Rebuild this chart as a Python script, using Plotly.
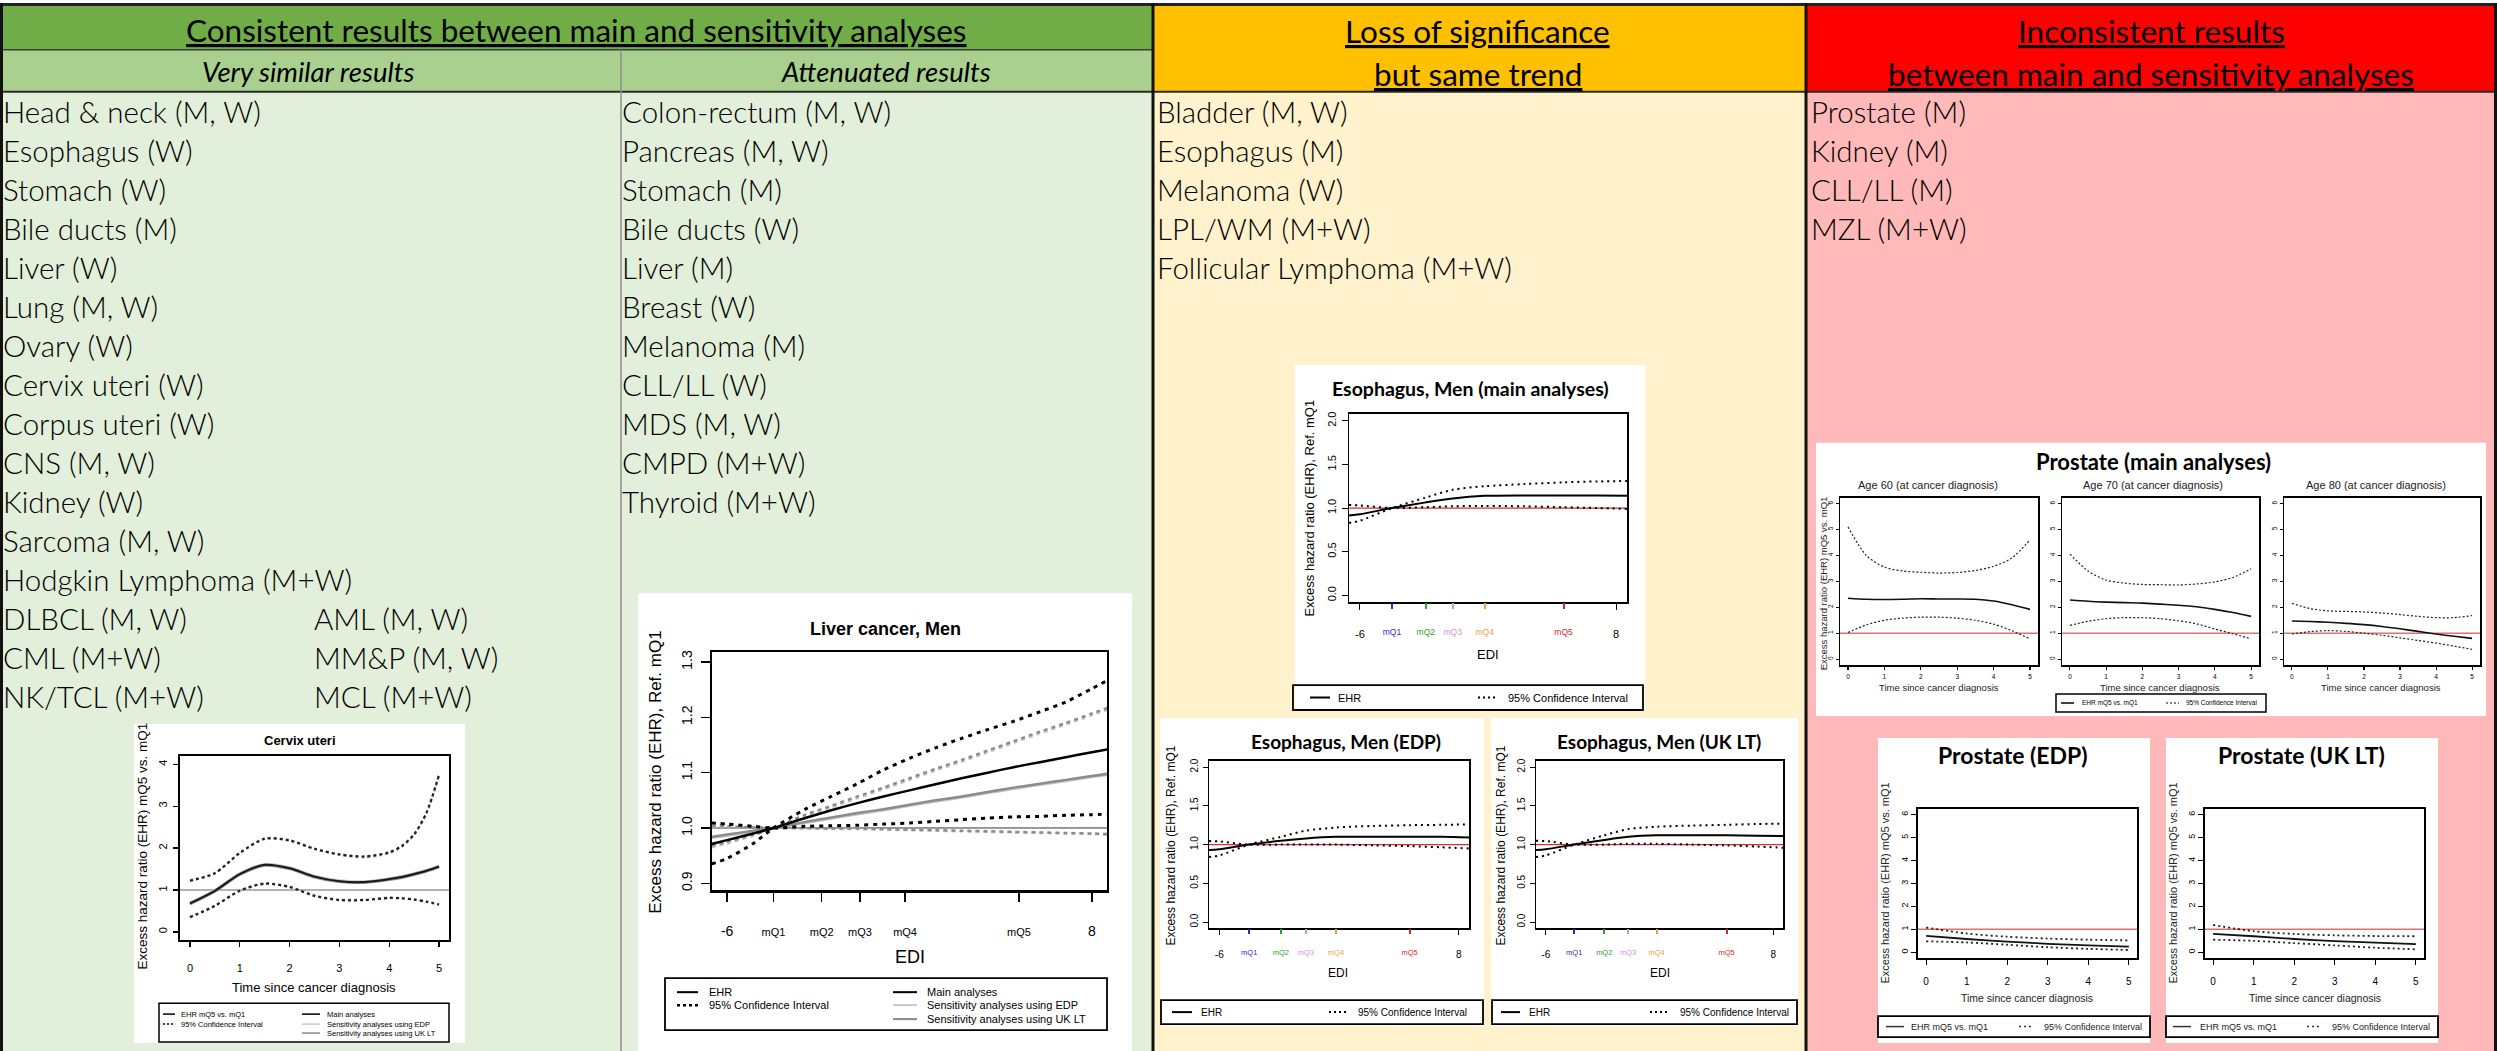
import plotly.graph_objects as go

W, H = 2497, 1051
BODY = "Lato, 'Open Sans', sans-serif"
RF = "'Liberation Sans', Arial, sans-serif"

# ---------------- table texts ----------------
head_consistent = "Consistent results between main and sensitivity analyses"
head_similar = "Very similar results"
head_attenuated = "Attenuated results"
head_loss = ["Loss of significance", "but same trend"]
head_incons = ["Inconsistent results", "between main and sensitivity analyses"]

similar_list = ["Head & neck (M, W)", "Esophagus (W)", "Stomach (W)", "Bile ducts (M)", "Liver (W)",
                "Lung (M, W)", "Ovary (W)", "Cervix uteri (W)", "Corpus uteri (W)", "CNS (M, W)",
                "Kidney (W)", "Sarcoma (M, W)", "Hodgkin Lymphoma (M+W)", "DLBCL (M, W)",
                "CML (M+W)", "NK/TCL (M+W)"]
similar_list_b = ["AML (M, W)", "MM&P (M, W)", "MCL (M+W)"]
attenuated_list = ["Colon-rectum (M, W)", "Pancreas (M, W)", "Stomach (M)", "Bile ducts (W)", "Liver (M)",
                   "Breast (W)", "Melanoma (M)", "CLL/LL (W)", "MDS (M, W)", "CMPD (M+W)", "Thyroid (M+W)"]
loss_list = ["Bladder (M, W)", "Esophagus (M)", "Melanoma (W)", "LPL/WM (M+W)", "Follicular Lymphoma (M+W)"]
incons_list = ["Prostate (M)", "Kidney (M)", "CLL/LL (M)", "MZL (M+W)"]

# ---------------- Cervix uteri ----------------
cerv_t = [0, 0.5, 1, 1.5, 2, 2.5, 3, 3.5, 4, 4.25, 4.5, 4.75, 5]
cerv_ehr = [0.68, 0.98, 1.38, 1.60, 1.52, 1.32, 1.21, 1.19, 1.26, 1.31, 1.38, 1.46, 1.56]
cerv_up = [1.22, 1.40, 1.88, 2.22, 2.18, 1.98, 1.85, 1.80, 1.90, 2.05, 2.33, 2.85, 3.75]
cerv_lo = [0.35, 0.62, 0.98, 1.15, 1.07, 0.86, 0.76, 0.76, 0.81, 0.80, 0.77, 0.72, 0.65]
cerv_ehr_edp = [0.69, 0.99, 1.39, 1.61, 1.53, 1.33, 1.22, 1.20, 1.27, 1.32, 1.39, 1.47, 1.57]
cerv_ehr_uk = [0.67, 0.97, 1.37, 1.59, 1.51, 1.31, 1.20, 1.18, 1.25, 1.30, 1.37, 1.45, 1.55]
cerv_up_sens = [1.23, 1.41, 1.89, 2.23, 2.19, 1.99, 1.84, 1.78, 1.88, 2.03, 2.31, 2.83, 3.73]
cerv_lo_sens = [0.36, 0.63, 0.99, 1.16, 1.08, 0.87, 0.77, 0.77, 0.82, 0.81, 0.78, 0.73, 0.66]
cerv_xticks = [0, 1, 2, 3, 4, 5]
cerv_yticks = [0, 1, 2, 3, 4]

# ---------------- Liver cancer, Men ----------------
liv_x = [-6.6, -6, -5, -4.22, -3, -2, -1, 0, 1, 2, 3, 4, 5, 6, 7, 8, 8.6]
liv_main = [0.971, 0.978, 0.990, 1.000, 1.018, 1.032, 1.045, 1.057, 1.068, 1.079, 1.090, 1.100, 1.110, 1.119, 1.128, 1.137, 1.142]
liv_main_ci_a = [0.935, 0.945, 0.972, 1.000, 1.034, 1.057, 1.080, 1.105, 1.126, 1.145, 1.162, 1.178, 1.193, 1.210, 1.228, 1.252, 1.267]
liv_main_ci_b = [1.009, 1.007, 1.003, 1.000, 1.003, 1.004, 1.005, 1.007, 1.009, 1.012, 1.015, 1.018, 1.020, 1.021, 1.023, 1.024, 1.025]
liv_edp = [0.982, 0.986, 0.993, 1.000, 1.009, 1.017, 1.025, 1.032, 1.040, 1.048, 1.055, 1.063, 1.071, 1.078, 1.085, 1.092, 1.096]
liv_uk = [0.984, 0.988, 0.995, 1.000, 1.011, 1.019, 1.027, 1.034, 1.042, 1.050, 1.057, 1.065, 1.073, 1.080, 1.087, 1.094, 1.098]
liv_edp_ci_a = [0.965, 0.972, 0.986, 1.000, 1.021, 1.037, 1.054, 1.070, 1.087, 1.104, 1.120, 1.137, 1.154, 1.171, 1.187, 1.204, 1.214]
liv_uk_ci_a = [0.968, 0.975, 0.988, 1.000, 1.024, 1.040, 1.057, 1.073, 1.090, 1.107, 1.123, 1.140, 1.157, 1.174, 1.190, 1.207, 1.217]
liv_edp_ci_b = [1.003, 1.002, 1.001, 1.000, 0.999, 0.998, 0.998, 0.997, 0.996, 0.995, 0.994, 0.993, 0.992, 0.991, 0.990, 0.989, 0.988]
liv_uk_ci_b = [1.004, 1.003, 1.001, 1.000, 1.000, 0.999, 0.999, 0.998, 0.997, 0.996, 0.995, 0.994, 0.993, 0.992, 0.991, 0.990, 0.989]
liv_mq = [-4.22, -2.37, -0.9, 0.83, 5.2]
mq_labels = ["mQ1", "mQ2", "mQ3", "mQ4", "mQ5"]
liv_yticks = [0.9, 1.0, 1.1, 1.2, 1.3]
liv_ytext = ["0.9", "1.0", "1.1", "1.2", "1.3"]

# ---------------- Esophagus, Men ----------------
eso_x = [-6.6, -6, -4.25, -2.4, -0.93, 0.82, 3, 5.13, 7, 8.6]
eso_main = [0.915, 0.93, 1.0, 1.065, 1.11, 1.14, 1.145, 1.145, 1.145, 1.14]
eso_main_a = [0.83, 0.855, 1.0, 1.12, 1.21, 1.25, 1.275, 1.295, 1.305, 1.31]
eso_main_b = [1.035, 1.03, 1.0, 1.01, 1.02, 1.025, 1.02, 1.01, 1.0, 0.99]
eso_edp = [0.93, 0.94, 1.0, 1.05, 1.08, 1.10, 1.10, 1.10, 1.10, 1.09]
eso_edp_a = [0.84, 0.86, 1.0, 1.10, 1.18, 1.22, 1.24, 1.25, 1.255, 1.26]
eso_edp_b = [1.045, 1.04, 1.0, 1.0, 1.0, 1.0, 0.99, 0.98, 0.965, 0.95]
eso_uk = [0.93, 0.94, 1.0, 1.06, 1.10, 1.12, 1.12, 1.12, 1.115, 1.11]
eso_uk_a = [0.84, 0.86, 1.0, 1.12, 1.20, 1.23, 1.245, 1.255, 1.265, 1.27]
eso_uk_b = [1.05, 1.045, 1.0, 1.0, 1.01, 1.01, 1.0, 0.99, 0.975, 0.96]
eso_mq = [-4.25, -2.4, -0.93, 0.82, 5.13]
mq_colors = ["#2B2BB8", "#2CA02C", "#D58FD5", "#E8A33A", "#D62728"]
eso_yticks = [0, 0.5, 1.0, 1.5, 2.0]
eso_ytext = ["0.0", "0.5", "1.0", "1.5", "2.0"]

# ---------------- Prostate ----------------
pr_t = [0, 0.5, 1, 1.5, 2, 2.5, 3, 3.5, 4, 4.5, 5]
p60_ehr = [2.35, 2.31, 2.30, 2.31, 2.33, 2.32, 2.32, 2.31, 2.24, 2.10, 1.92]
p60_up = [5.10, 4.00, 3.55, 3.40, 3.35, 3.32, 3.34, 3.42, 3.58, 3.90, 4.60]
p60_lo = [1.03, 1.32, 1.50, 1.58, 1.62, 1.62, 1.58, 1.50, 1.35, 1.10, 0.78]
p70_ehr = [2.28, 2.23, 2.20, 2.18, 2.16, 2.12, 2.08, 2.02, 1.92, 1.80, 1.65]
p70_up = [4.05, 3.40, 3.05, 2.93, 2.88, 2.87, 2.86, 2.90, 2.98, 3.15, 3.48]
p70_lo = [1.30, 1.46, 1.56, 1.60, 1.60, 1.56, 1.48, 1.36, 1.16, 0.98, 0.78]
p80_ehr = [1.47, 1.45, 1.42, 1.38, 1.33, 1.26, 1.17, 1.07, 0.97, 0.88, 0.80]
p80_up = [2.15, 1.95, 1.86, 1.84, 1.82, 1.78, 1.72, 1.65, 1.60, 1.60, 1.68]
p80_lo = [0.97, 1.06, 1.10, 1.07, 1.00, 0.92, 0.82, 0.72, 0.62, 0.50, 0.38]
age_titles = ["Age 60 (at cancer diagnosis)", "Age 70 (at cancer diagnosis)", "Age 80 (at cancer diagnosis)"]
ps_t = [0, 1, 2, 3, 4, 5]
pe_ehr = [0.72, 0.58, 0.47, 0.37, 0.30, 0.25]
pe_up = [1.08, 0.82, 0.68, 0.60, 0.55, 0.52]
pe_lo = [0.48, 0.43, 0.33, 0.22, 0.15, 0.10]
pu_ehr = [0.80, 0.70, 0.58, 0.49, 0.42, 0.36]
pu_up = [1.19, 0.92, 0.80, 0.74, 0.71, 0.70]
pu_lo = [0.55, 0.50, 0.40, 0.30, 0.20, 0.13]
pr_xticks = [0, 1, 2, 3, 4, 5]
pr_yticks = [0, 1, 2, 3, 4, 5, 6]

y_title_t = "Excess hazard ratio (EHR) mQ5 vs. mQ1"
y_title_edi = "Excess hazard ratio (EHR), Ref. mQ1"
x_title_t = "Time since cancer diagnosis"


def X(p):
    return p / W


def Y(p):
    return 1 - p / H


fig = go.Figure()
shapes, annos, lay = [], [], {}
ax_n = [0]


def rect(x0, y0, x1, y1, fill='rgba(0,0,0,0)', lc=None, lw=0, layer='below'):
    shapes.append(dict(type='rect', xref='paper', yref='paper', x0=X(x0), x1=X(x1), y0=Y(y1), y1=Y(y0),
                       fillcolor=fill, line=dict(color=lc or 'rgba(0,0,0,0)', width=lw), layer=layer))


def seg(x0, y0, x1, y1, color, width, dash='solid', layer='above'):
    shapes.append(dict(type='line', xref='paper', yref='paper', x0=X(x0), x1=X(x1), y0=Y(y0), y1=Y(y1),
                       line=dict(color=color, width=width, dash=dash), layer=layer))


def txt(x, y, s, size, family=BODY, color='black', xa='left', ya='middle', angle=0, weight=None):
    font = dict(family=family, size=size, color=color)
    if weight is not None:
        font['weight'] = weight
    annos.append(dict(xref='paper', yref='paper', x=X(x), y=Y(y), text=s, showarrow=False,
                      xanchor=xa, yanchor=ya, textangle=angle, borderpad=0, font=font))


def make_plot(box, xr, yr, xtv, xtt, ytv, ytt, xfs, yfs, lw, tl, xso, yso):
    ax_n[0] += 1
    n = ax_n[0]
    s = '' if n == 1 else str(n)
    x0, y0, x1, y1 = box
    base = dict(showline=True, mirror=True, linecolor='black', linewidth=lw, ticks='outside', ticklen=tl,
                tickwidth=max(1, lw * 0.7), tickcolor='black', showgrid=False, zeroline=False,
                fixedrange=True, tickmode='array')
    lay['xaxis' + s] = dict(base, domain=[X(x0), X(x1)], range=xr, anchor='y' + s, tickvals=xtv, ticktext=xtt,
                            tickfont=dict(family=RF, size=xfs, color='black'), ticklabelstandoff=xso)
    lay['yaxis' + s] = dict(base, domain=[Y(y1), Y(y0)], range=yr, anchor='x' + s, tickvals=ytv, ticktext=ytt,
                            tickangle=-90, tickfont=dict(family=RF, size=yfs, color='black'),
                            ticklabelstandoff=yso)
    return 'x' + s, 'y' + s


def overlay_tick(xref, yref, xr, val, label, color, size, tl, so):
    ax_n[0] += 1
    n = ax_n[0]
    lay['xaxis%d' % n] = dict(overlaying=xref, anchor=yref, side='bottom', range=xr, tickmode='array',
                              tickvals=[val], ticktext=[label], ticks='outside', ticklen=tl, tickwidth=2,
                              tickcolor=color, tickfont=dict(family=RF, size=size, color=color),
                              showline=False, showgrid=False, zeroline=False, fixedrange=True,
                              ticklabelstandoff=so)
    fig.add_trace(go.Scatter(x=[val], y=[None], xaxis='x%d' % n, yaxis=yref, mode='markers',
                             marker=dict(opacity=0), showlegend=False, hoverinfo='skip'))


def line(xa, ya, xs, ys, color, width, dash='solid', shape='spline'):
    fig.add_trace(go.Scatter(x=xs, y=ys, xaxis=xa, yaxis=ya, mode='lines',
                             line=dict(color=color, width=width, dash=dash, shape=shape, smoothing=0.8),
                             showlegend=False, hoverinfo='skip'))


# ---------------- table background ----------------
rect(0, 0, 1153, 47, '#70AD47')
rect(0, 47, 1153, 89, '#A9D08E')
rect(0, 89, 1153, H, '#E2EFDA')
rect(1153, 0, 1806, 89, '#FFC000')
rect(1153, 89, 1806, H, '#FFF2CC')
rect(1806, 0, W, 89, '#FF0000')
rect(1806, 89, W, H, '#FFB9B9')
seg(0, 47, 1153, 47, '#3A3A3A', 1.5, layer='below')
seg(0, 89, W, 89, '#2A2A2A', 2, layer='below')
seg(621, 47, 621, H, '#8C8C8C', 1.5, layer='below')
seg(0, 1.5, W, 1.5, '#222222', 3, layer='below')
seg(1.5, 0, 1.5, H, '#111111', 3, layer='below')
seg(W - 1.5, 0, W - 1.5, H, '#111111', 3, layer='below')
seg(1153, 0, 1153, H, '#111111', 3, layer='below')
seg(1806, 0, 1806, H, '#111111', 3, layer='below')

# headers
HF = 31.5
txt(576, 27, '<u>' + head_consistent + '</u>', HF, xa='center')
txt(308, 69, '<i>' + head_similar + '</i>', 27.5, xa='center')
txt(886, 69, '<i>' + head_attenuated + '</i>', 27.5, xa='center')
txt(1478, 28, '<u>' + head_loss[0] + '</u>', HF, xa='center')
txt(1478, 71, '<u>' + head_loss[1] + '</u>', HF, xa='center')
txt(2151, 28, '<u>' + head_incons[0] + '</u>', HF, xa='center')
txt(2151, 71, '<u>' + head_incons[1] + '</u>', HF, xa='center')

BF = 29.5
LS = 39.1
for k, s in enumerate(similar_list):
    txt(2, 109 + LS * k, s, BF, weight=300)
for k, s in enumerate(similar_list_b):
    txt(313, 109 + LS * (13 + k), s, BF, weight=300)
for k, s in enumerate(attenuated_list):
    txt(621, 109 + LS * k, s, BF, weight=300)
for k, s in enumerate(loss_list):
    txt(1156, 109 + LS * k, s, BF, weight=300)
for k, s in enumerate(incons_list):
    txt(1810, 109 + LS * k, s, BF, weight=300)

# white picture boxes
rect(134, 723, 465, 1043, 'white')
rect(638, 592, 1132, H, 'white')
rect(1295, 363, 1645, 710, 'white')
rect(1160, 717, 1484, 1026, 'white')
rect(1491, 717, 1798, 1026, 'white')
rect(1816, 441, 2486, 715, 'white')
rect(1878, 737, 2150, 1043, 'white')
rect(2166, 737, 2438, 1043, 'white')

# ---------------- Cervix uteri chart ----------------
cxr = [-0.2, 5.2]
xa, ya = make_plot((180, 755, 449, 940), cxr, [-0.2, 4.2], cerv_xticks, [str(v) for v in cerv_xticks],
                   cerv_yticks, [str(v) for v in cerv_yticks], 11, 11, 1.8, 5, 12, 2)
line(xa, ya, cxr, [1, 1], '#9A9A9A', 1.5, shape='linear')
line(xa, ya, cerv_t, cerv_up_sens, '#A0A0A0', 2.2, '3px,3px')
line(xa, ya, cerv_t, cerv_lo_sens, '#A0A0A0', 2.2, '3px,3px')
line(xa, ya, cerv_t, cerv_ehr_edp, '#C8C8C8', 3)
line(xa, ya, cerv_t, cerv_ehr_uk, '#8A8A8A', 3)
line(xa, ya, cerv_t, cerv_up, '#222222', 2.2, '3px,3px')
line(xa, ya, cerv_t, cerv_lo, '#222222', 2.2, '3px,3px')
line(xa, ya, cerv_t, cerv_ehr, '#1A1A1A', 2)
txt(300, 740, '<b>Cervix uteri</b>', 13, RF, xa='center')
txt(314, 987, x_title_t, 13, RF, xa='center')
txt(143, 846, y_title_t, 13.5, RF, xa='center', angle=-90)
rect(159, 1003, 449, 1042, lc='black', lw=1.5, layer='above')
seg(163, 1014, 175, 1014, 'black', 1.5)
seg(163, 1024, 175, 1024, 'black', 1.5, '2px,2px')
txt(180, 1014, 'EHR mQ5 vs. mQ1', 7.5, RF)
txt(180, 1024, '95% Confidence Interval', 7.5, RF)
seg(302, 1014, 320, 1014, 'black', 1.5)
seg(302, 1024, 320, 1024, '#C8C8C8', 1.5)
seg(302, 1033, 320, 1033, '#888888', 1.5)
txt(326, 1014, 'Main analyses', 7.5, RF)
txt(326, 1024, 'Sensitivity analyses using EDP', 7.5, RF)
txt(326, 1033, 'Sensitivity analyses using UK LT', 7.5, RF)

# ---------------- Liver chart ----------------
lxr = [-6.58, 8.58]
liv_xt = [-6] + liv_mq + [8]
liv_xtt = ['-6'] + ['<span style="font-size:11px">%s</span>' % m for m in mq_labels] + ['8']
xa, ya = make_plot((712, 651, 1107, 890), lxr, [0.887, 1.318], liv_xt, liv_xtt, liv_yticks, liv_ytext,
                   14, 14, 2.2, 9, 18, 3)
line(xa, ya, lxr, [1, 1], '#333333', 1, shape='linear')
line(xa, ya, liv_x, liv_edp_ci_a, '#C4C4C4', 2.5, '4px,4px')
line(xa, ya, liv_x, liv_uk_ci_a, '#8C8C8C', 2.5, '4px,4px')
line(xa, ya, liv_x, liv_edp_ci_b, '#C4C4C4', 2.5, '4px,4px')
line(xa, ya, liv_x, liv_uk_ci_b, '#8C8C8C', 2.5, '4px,4px')
line(xa, ya, liv_x, liv_edp, '#C4C4C4', 2.5)
line(xa, ya, liv_x, liv_uk, '#8C8C8C', 2.5)
line(xa, ya, liv_x, liv_main_ci_a, 'black', 3, '4px,5px')
line(xa, ya, liv_x, liv_main_ci_b, 'black', 3, '4px,5px')
line(xa, ya, liv_x, liv_main, 'black', 2.5)
txt(885, 628, '<b>Liver cancer, Men</b>', 18, RF, xa='center')
txt(910, 957, 'EDI', 18, RF, xa='center')
txt(656, 772, y_title_edi, 17, RF, xa='center', angle=-90)
rect(665, 978, 1107, 1030, lc='black', lw=1.8, layer='above')
seg(677, 992, 698, 992, 'black', 2)
seg(677, 1005, 698, 1005, 'black', 2.5, '3px,3px')
txt(708, 992, 'EHR', 11, RF)
txt(708, 1005, '95% Confidence Interval', 11, RF)
seg(893, 992, 917, 992, 'black', 2)
seg(893, 1005, 917, 1005, '#C8C8C8', 2)
seg(893, 1019, 917, 1019, '#888888', 2)
txt(926, 992, 'Main analyses', 11, RF)
txt(926, 1005, 'Sensitivity analyses using EDP', 11, RF)
txt(926, 1019, 'Sensitivity analyses using UK LT', 11, RF)

# ---------------- Esophagus charts ----------------
exr = [-6.6, 8.6]
eso_specs = [
    dict(box=(1349, 412, 1627, 601), data=(eso_main, eso_main_a, eso_main_b), fs=11, mqfs=8.5, tl=6, xso=15,
         title='Esophagus, Men (main analyses)', tpos=(1470, 387), tfs=19.5, edi=(1488, 653), efs=13,
         ytp=(1310, 507), yfs=13, leg=(1293, 684, 1643, 709), sol=(1310, 1330), ehr_x=1337,
         dot=(1478, 1495), ci_x=1507, lfs=11),
    dict(box=(1209, 760, 1469, 928), data=(eso_edp, eso_edp_a, eso_edp_b), fs=10, mqfs=7.5, tl=5, xso=11,
         title='Esophagus, Men (EDP)', tpos=(1346, 741), tfs=19, edi=(1338, 973), efs=12,
         ytp=(1171, 845), yfs=12, leg=(1161, 1000, 1483, 1024), sol=(1172, 1192), ehr_x=1200,
         dot=(1329, 1346), ci_x=1357, lfs=10),
    dict(box=(1536, 760, 1783, 928), data=(eso_uk, eso_uk_a, eso_uk_b), fs=10, mqfs=7.5, tl=5, xso=11,
         title='Esophagus, Men (UK LT)', tpos=(1659, 741), tfs=19, edi=(1660, 973), efs=12,
         ytp=(1501, 845), yfs=12, leg=(1492, 1000, 1797, 1024), sol=(1501, 1520), ehr_x=1528,
         dot=(1650, 1667), ci_x=1679, lfs=10),
]
for sp in eso_specs:
    xa, ya = make_plot(sp['box'], exr, [-0.08, 2.08], [-6, 8], ['-6', '8'], eso_yticks, eso_ytext,
                       sp['fs'], sp['fs'], 1.5, sp['tl'], sp['xso'], 1)
    for v, lab, col in zip(eso_mq, mq_labels, mq_colors):
        overlay_tick(xa, ya, exr, v, lab, col, sp['mqfs'], sp['tl'], sp['xso'] + 1)
    ehr, ca, cb = sp['data']
    line(xa, ya, exr, [1, 1], '#D03030', 1.2, shape='linear')
    line(xa, ya, eso_x, ca, 'black', 2, '2px,4px')
    line(xa, ya, eso_x, cb, 'black', 2, '2px,4px')
    line(xa, ya, eso_x, ehr, 'black', 2)
    txt(sp['tpos'][0], sp['tpos'][1], '<b>%s</b>' % sp['title'], sp['tfs'], BODY, xa='center')
    txt(sp['edi'][0], sp['edi'][1], 'EDI', sp['efs'], RF, xa='center')
    txt(sp['ytp'][0], sp['ytp'][1], y_title_edi, sp['yfs'], RF, xa='center', angle=-90)
    lx0, ly0, lx1, ly1 = sp['leg']
    rect(lx0, ly0, lx1, ly1, lc='black', lw=1.8, layer='above')
    ym = (ly0 + ly1) / 2
    seg(sp['sol'][0], ym, sp['sol'][1], ym, 'black', 2)
    seg(sp['dot'][0], ym, sp['dot'][1], ym, 'black', 2, '2px,3px')
    txt(sp['ehr_x'], ym, 'EHR', sp['lfs'], RF)
    txt(sp['ci_x'], ym, '95% Confidence Interval', sp['lfs'], RF)

# ---------------- Prostate main analyses ----------------
pxr = [-0.22, 5.22]
pyr = [-0.23, 6.23]
panels = [((1840, 496, 2038, 664), p60_ehr, p60_up, p60_lo, 1928, 1939),
          ((2062, 496, 2259, 664), p70_ehr, p70_up, p70_lo, 2153, 2160),
          ((2284, 496, 2480, 664), p80_ehr, p80_up, p80_lo, 2376, 2381)]
for k, (box, e, u, lo, tx, xt) in enumerate(panels):
    xa, ya = make_plot(box, pxr, pyr, pr_xticks, [str(v) for v in pr_xticks], pr_yticks,
                       [str(v) for v in pr_yticks], 6.5, 6.5, 1.5, 3, 2, 0)
    line(xa, ya, pxr, [1, 1], '#E07070', 1.5, shape='linear')
    line(xa, ya, pr_t, u, '#222222', 1.2, '2px,2px')
    line(xa, ya, pr_t, lo, '#222222', 1.2, '2px,2px')
    line(xa, ya, pr_t, e, '#111111', 1.6)
    txt(tx, 483, age_titles[k], 11, RF, color='#222222', xa='center')
    txt(xt, 686, x_title_t, 9.5, RF, color='#222222', xa='center')
txt(1823, 582, y_title_t, 9.5, RF, color='#222222', xa='center', angle=-90)
txt(2153, 460, '<b>Prostate (main analyses)</b>', 22, BODY, xa='center')
rect(2056, 693, 2266, 711, lc='black', lw=1.5, layer='above')
seg(2061, 702, 2074, 702, 'black', 1.5)
seg(2166, 702, 2179, 702, 'black', 1.2, '2px,2px')
txt(2081, 702, 'EHR mQ5 vs. mQ1', 6.5, RF)
txt(2185, 702, '95% Confidence Interval', 6.5, RF)

# ---------------- Prostate EDP / UK LT ----------------
sxr = [-0.2, 5.2]
syr = [-0.26, 6.26]
side_specs = [
    dict(box=(1918, 808, 2137, 958), data=(pe_ehr, pe_up, pe_lo), title='Prostate (EDP)', tpos=(2013, 754),
         xt=(2027, 998), yt=(1885, 883), leg=(1878, 1016, 2150, 1037), sol=(1886, 1904), tx1=1910,
         dot=(2019, 2033), tx2=2043),
    dict(box=(2205, 808, 2424, 958), data=(pu_ehr, pu_up, pu_lo), title='Prostate (UK LT)', tpos=(2301, 754),
         xt=(2315, 998), yt=(2173, 883), leg=(2166, 1016, 2438, 1037), sol=(2173, 2191), tx1=2199,
         dot=(2307, 2320), tx2=2331),
]
for sp in side_specs:
    xa, ya = make_plot(sp['box'], sxr, syr, pr_xticks, [str(v) for v in pr_xticks], pr_yticks,
                       [str(v) for v in pr_yticks], 10, 9, 1.6, 5, 8, 0)
    e, u, lo = sp['data']
    line(xa, ya, sxr, [1, 1], '#E07070', 1.5, shape='linear')
    line(xa, ya, ps_t, u, '#222222', 1.8, '2px,3px')
    line(xa, ya, ps_t, lo, '#222222', 1.8, '2px,3px')
    line(xa, ya, ps_t, e, '#111111', 1.8)
    txt(sp['tpos'][0], sp['tpos'][1], '<b>%s</b>' % sp['title'], 23, BODY, xa='center')
    txt(sp['xt'][0], sp['xt'][1], x_title_t, 10.5, RF, color='#222222', xa='center')
    txt(sp['yt'][0], sp['yt'][1], y_title_t, 11, RF, color='#222222', xa='center', angle=-90)
    lx0, ly0, lx1, ly1 = sp['leg']
    rect(lx0, ly0, lx1, ly1, lc='black', lw=1.8, layer='above')
    ym = (ly0 + ly1) / 2
    seg(sp['sol'][0], ym, sp['sol'][1], ym, '#333333', 1.5)
    seg(sp['dot'][0], ym, sp['dot'][1], ym, '#333333', 1.5, '2px,3px')
    txt(sp['tx1'], ym, 'EHR mQ5 vs. mQ1', 9, RF, color='#222222')
    txt(sp['tx2'], ym, '95% Confidence Interval', 9, RF, color='#222222')

fig.update_layout(width=W, height=H, margin=dict(l=0, r=0, t=0, b=0, pad=0), paper_bgcolor='white',
                  plot_bgcolor='rgba(0,0,0,0)', showlegend=False, shapes=shapes, annotations=annos, **lay)
fig.write_html("out.html", config={'displayModeBar': False, 'staticPlot': True},
               post_script="document.body.style.margin='0';document.body.style.overflow='hidden';")
